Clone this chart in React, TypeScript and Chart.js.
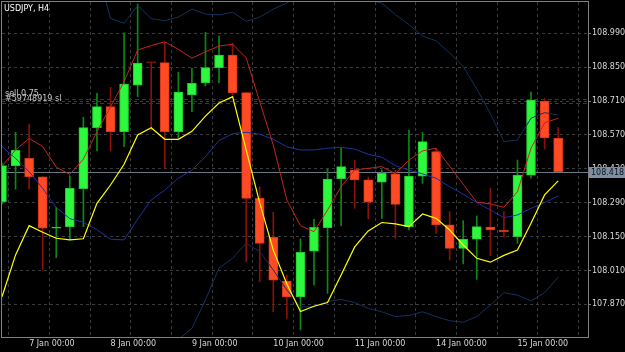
import React, { useEffect, useRef } from 'react';
import { Chart, registerables } from 'chart.js';

Chart.register(...registerables);

// ---- Data (USDJPY, H4) ----
const opens = [108.294, 108.443, 108.473, 108.397, 108.185, 108.191, 108.348, 108.600, 108.687, 108.583, 108.776, 108.869, 108.869, 108.583, 108.735, 108.786, 108.848, 108.900, 108.745, 108.308, 108.147, 107.966, 107.901, 108.090, 108.187, 108.389, 108.425, 108.384, 108.375, 108.409, 108.191, 108.400, 108.501, 108.198, 108.101, 108.139, 108.189, 108.177, 108.149, 108.404, 108.709, 108.556];
const highs = [108.454, 108.581, 108.615, 108.398, 108.271, 108.401, 108.643, 108.742, 108.767, 108.992, 109.111, 108.870, 108.955, 108.829, 108.845, 108.994, 108.980, 108.949, 108.745, 108.356, 108.251, 107.991, 108.140, 108.221, 108.429, 108.515, 108.466, 108.397, 108.425, 108.425, 108.590, 108.580, 108.515, 108.253, 108.216, 108.235, 108.349, 108.253, 108.466, 108.747, 108.721, 108.600];
const lows = [108.285, 108.346, 108.346, 108.012, 108.063, 108.136, 108.191, 108.504, 108.504, 108.521, 108.728, 108.590, 108.432, 108.556, 108.666, 108.772, 108.786, 108.735, 108.046, 107.963, 107.839, 107.812, 107.764, 107.950, 107.915, 108.195, 108.267, 108.223, 108.225, 108.143, 108.177, 108.370, 108.163, 108.053, 108.037, 107.973, 108.071, 108.147, 108.122, 108.391, 108.511, 108.418];
const closes = [108.443, 108.506, 108.397, 108.185, 108.189, 108.349, 108.600, 108.687, 108.583, 108.780, 108.867, 108.869, 108.583, 108.747, 108.783, 108.848, 108.900, 108.745, 108.308, 108.122, 107.970, 107.901, 108.085, 108.188, 108.388, 108.439, 108.384, 108.292, 108.411, 108.283, 108.400, 108.542, 108.198, 108.101, 108.140, 108.191, 108.178, 108.169, 108.404, 108.714, 108.559, 108.418];

const maRed = [108.441, 108.508, 108.556, 108.522, 108.437, 108.407, 108.470, 108.583, 108.687, 108.790, 108.921, 108.939, 108.955, 108.924, 108.887, 108.914, 108.937, 108.945, 108.889, 108.707, 108.528, 108.301, 108.195, 108.170, 108.260, 108.356, 108.425, 108.432, 108.439, 108.409, 108.466, 108.504, 108.515, 108.441, 108.366, 108.292, 108.285, 108.271, 108.335, 108.515, 108.620, 108.639];
const lineYellow = [107.901, 108.074, 108.195, 108.168, 108.143, 108.136, 108.141, 108.287, 108.363, 108.449, 108.570, 108.600, 108.552, 108.552, 108.585, 108.648, 108.702, 108.728, 108.508, 108.289, 108.094, 107.954, 107.840, 107.862, 107.877, 107.991, 108.107, 108.173, 108.208, 108.202, 108.191, 108.243, 108.225, 108.177, 108.115, 108.060, 108.044, 108.072, 108.094, 108.205, 108.322, 108.380];
const bbMiddle = [108.522, 108.473, 108.418, 108.349, 108.270, 108.224, 108.209, 108.178, 108.139, 108.136, 108.222, 108.301, 108.342, 108.391, 108.425, 108.480, 108.547, 108.575, 108.581, 108.573, 108.552, 108.521, 108.508, 108.508, 108.515, 108.519, 108.511, 108.490, 108.478, 108.443, 108.425, 108.409, 108.391, 108.356, 108.325, 108.290, 108.260, 108.228, 108.239, 108.267, 108.290, 108.318];
const bbUpper = [109.417, 109.396, 109.355, 109.314, 109.293, 109.293, 109.285, 109.256, 109.052, 109.031, 109.105, 109.051, 109.042, 109.057, 109.090, 109.070, 109.066, 109.077, 109.040, 109.057, 109.090, 109.115, 109.157, 109.157, 109.146, 109.148, 109.144, 109.128, 109.115, 109.067, 109.026, 108.979, 108.959, 108.909, 108.853, 108.760, 108.659, 108.542, 108.549, 108.639, 108.662, 108.652];
const bbLower = [107.627, 107.549, 107.483, 107.384, 107.247, 107.156, 107.136, 107.102, 107.226, 107.240, 107.340, 107.551, 107.643, 107.724, 107.771, 107.888, 108.020, 108.060, 108.122, 108.088, 108.012, 107.929, 107.859, 107.860, 107.882, 107.890, 107.877, 107.853, 107.839, 107.819, 107.824, 107.839, 107.819, 107.802, 107.796, 107.819, 107.867, 107.918, 107.908, 107.884, 107.918, 107.982];

const dateTickBars = [2, 8, 14, 20, 26, 32, 38];
const dateTickLabels = ['7 Jan 00:00', '8 Jan 00:00', '9 Jan 00:00', '10 Jan 00:00', '11 Jan 00:00', '14 Jan 00:00', '15 Jan 00:00'];
const gridBars = [2, 5, 8, 11, 14, 17, 20, 23, 26, 29, 32, 35, 38, 41];
const priceTicks = [107.87, 108.01, 108.15, 108.29, 108.43, 108.57, 108.71, 108.85, 108.99];

const bidPrice = 108.418;
const orderPrice = 108.701;
const slPrice = 108.72;
const symbolTitle = 'USDJPY, H4';
const orderLabel = 'sell 0.75';
const orderTicket = '#59748919 sl';

const yMin = 107.7307;
const yMax = 109.1194;
const xMin = 0;
const xMax = 43.2;

const FONT = "'DejaVu Sans', sans-serif";

export default function App() {
  const ref = useRef<HTMLCanvasElement>(null);

  useEffect(() => {
    document.body.style.margin = '0';
    document.body.style.background = '#000';
    const canvas = ref.current;
    if (!canvas) return;

    const wickColors = opens.map((o, i) => (closes[i] > o ? '#0a8a14' : '#8a1008'));
    const bodyColors = opens.map((o, i) =>
      closes[i] === o ? wickColors[i] : closes[i] > o ? '#2ef83e' : '#ff4a24'
    );
    const bodyBorders = opens.map((o, i) =>
      closes[i] === o ? wickColors[i] : closes[i] > o ? '#1fc92e' : '#d8381a'
    );

    const pts = (arr: number[]) => arr.map((v, i) => ({ x: i, y: v }));

    const overlay = {
      id: 'mt4overlay',
      beforeDraw(chart: any) {
        const ctx = chart.ctx;
        ctx.save();
        ctx.fillStyle = '#000';
        ctx.fillRect(0, 0, chart.width, chart.height);
        ctx.restore();
      },
      beforeDatasetsDraw(chart: any) {
        const ctx = chart.ctx;
        const a = chart.chartArea;
        const ys = chart.scales.y;
        const hline = (price: number, color: string, dash: number[]) => {
          const y = Math.round(ys.getPixelForValue(price)) + 0.5;
          ctx.save();
          ctx.strokeStyle = color;
          ctx.lineWidth = 1;
          ctx.setLineDash(dash);
          ctx.beginPath();
          ctx.moveTo(a.left, y);
          ctx.lineTo(a.right, y);
          ctx.stroke();
          ctx.restore();
        };
        hline(slPrice, '#0c520c', [4, 3]);
        hline(orderPrice, '#8c1414', [4, 3]);
        hline(bidPrice, '#6b7888', []);
      },
      afterDraw(chart: any) {
        const ctx = chart.ctx;
        const a = chart.chartArea;
        const ys = chart.scales.y;
        ctx.save();
        // frame
        ctx.strokeStyle = '#7f7f7f';
        ctx.lineWidth = 1;
        ctx.strokeRect(a.left - 0.5, a.top - 0.5, a.right - a.left + 1, a.bottom - a.top);
        // bid price box
        const by = ys.getPixelForValue(bidPrice);
        ctx.fillStyle = '#7f8ea2';
        ctx.fillRect(a.right + 1, Math.round(by) - 5, 36, 11);
        ctx.fillStyle = '#0b1522';
        ctx.font = `8px ${FONT}`;
        ctx.textBaseline = 'middle';
        ctx.textAlign = 'left';
        ctx.fillText(bidPrice.toFixed(3), a.right + 3, Math.round(by) + 0.5);
        // texts
        ctx.fillStyle = '#ffffff';
        ctx.textBaseline = 'alphabetic';
        ctx.font = `8px ${FONT}`;
        ctx.fillText(symbolTitle, 4, 11);
        ctx.fillStyle = '#c8c8c8';
        ctx.fillText(orderLabel, 5, 95.5);
        ctx.fillText(orderTicket, 5, 101);
        ctx.restore();
      },
    };

    const chart = new Chart(canvas, {
      type: 'bar',
      data: {
        datasets: [
          {
            type: 'line',
            label: 'BB upper',
            data: pts(bbUpper),
            borderColor: '#11325f',
            borderWidth: 1,
            pointRadius: 0,
            tension: 0,
            order: -1,
          } as any,
          {
            type: 'line',
            label: 'BB lower',
            data: pts(bbLower),
            borderColor: '#11325f',
            borderWidth: 1,
            pointRadius: 0,
            tension: 0,
            order: -1,
          } as any,
          {
            type: 'line',
            label: 'BB middle',
            data: pts(bbMiddle),
            borderColor: '#1f30a6',
            borderWidth: 1,
            pointRadius: 0,
            tension: 0,
            order: -2,
          } as any,
          {
            type: 'line',
            label: 'MA',
            data: pts(maRed),
            borderColor: '#c42420',
            borderWidth: 1,
            pointRadius: 0,
            tension: 0,
            order: -3,
          } as any,
          {
            type: 'line',
            label: 'Yellow',
            data: pts(lineYellow),
            borderColor: '#ffff00',
            borderWidth: 1.2,
            pointRadius: 0,
            tension: 0,
            order: -4,
          } as any,
          {
            type: 'bar',
            label: 'wicks',
            data: opens.map((_, i) => ({ x: i, y: [lows[i], highs[i]] })),
            backgroundColor: wickColors,
            borderWidth: 0,
            barThickness: 1,
            grouped: false,
            order: 2,
          } as any,
          {
            type: 'bar',
            label: 'bodies',
            data: opens.map((o, i) => ({ x: i, y: [o, closes[i]] })),
            backgroundColor: bodyColors,
            borderColor: bodyBorders,
            borderWidth: 1,
            borderSkipped: false,
            barThickness: 9,
            minBarLength: 1,
            grouped: false,
            order: 1,
          } as any,
        ],
      },
      options: {
        animation: false,
        responsive: false,
        maintainAspectRatio: false,
        events: [],
        layout: { padding: { left: 2, top: 2, right: 0, bottom: 0 } },
        plugins: {
          legend: { display: false },
          tooltip: { enabled: false },
          title: { display: false },
        },
        scales: {
          x: {
            type: 'linear',
            min: xMin,
            max: xMax,
            offset: false,
            afterBuildTicks: (scale: any) => {
              scale.ticks = gridBars.map((v) => ({ value: v }));
            },
            afterFit: (scale: any) => {
              scale.height = 14;
              scale.paddingLeft = 0;
              scale.paddingRight = 0;
              scale.paddingTop = 0;
              scale.paddingBottom = 0;
            },
            grid: {
              color: '#3c3c3c',
              lineWidth: 1,
              drawTicks: false,
            },
            border: { display: false, dash: [3, 3] },
            ticks: {
              autoSkip: false,
              maxRotation: 0,
              minRotation: 0,
              align: 'start',
              padding: 1,
              color: '#d8d8d8',
              font: { family: FONT, size: 8 },
              callback: (v: any) => {
                const k = dateTickBars.indexOf(Number(v));
                return k >= 0 ? dateTickLabels[k] : '';
              },
            },
          },
          y: {
            type: 'linear',
            position: 'right',
            min: yMin,
            max: yMax,
            afterBuildTicks: (scale: any) => {
              scale.ticks = priceTicks.map((v) => ({ value: v }));
            },
            afterFit: (scale: any) => {
              scale.width = 37;
              scale.paddingLeft = 0;
              scale.paddingRight = 0;
              scale.paddingTop = 0;
              scale.paddingBottom = 0;
            },
            grid: {
              color: '#3c3c3c',
              lineWidth: 1,
              drawTicks: true,
              tickLength: 3,
              tickColor: '#808080',
            },
            border: { display: false, dash: [3, 3] },
            ticks: {
              padding: 1,
              color: '#d8d8d8',
              font: { family: FONT, size: 8 },
              callback: (v: any) => Number(v).toFixed(3),
            },
          },
        },
      } as any,
      plugins: [overlay],
    });

    return () => chart.destroy();
  }, []);

  return (
    <div style={{ width: 625, height: 352, background: '#000' }}>
      <canvas ref={ref} width={625} height={352} style={{ display: 'block' }} />
    </div>
  );
}
